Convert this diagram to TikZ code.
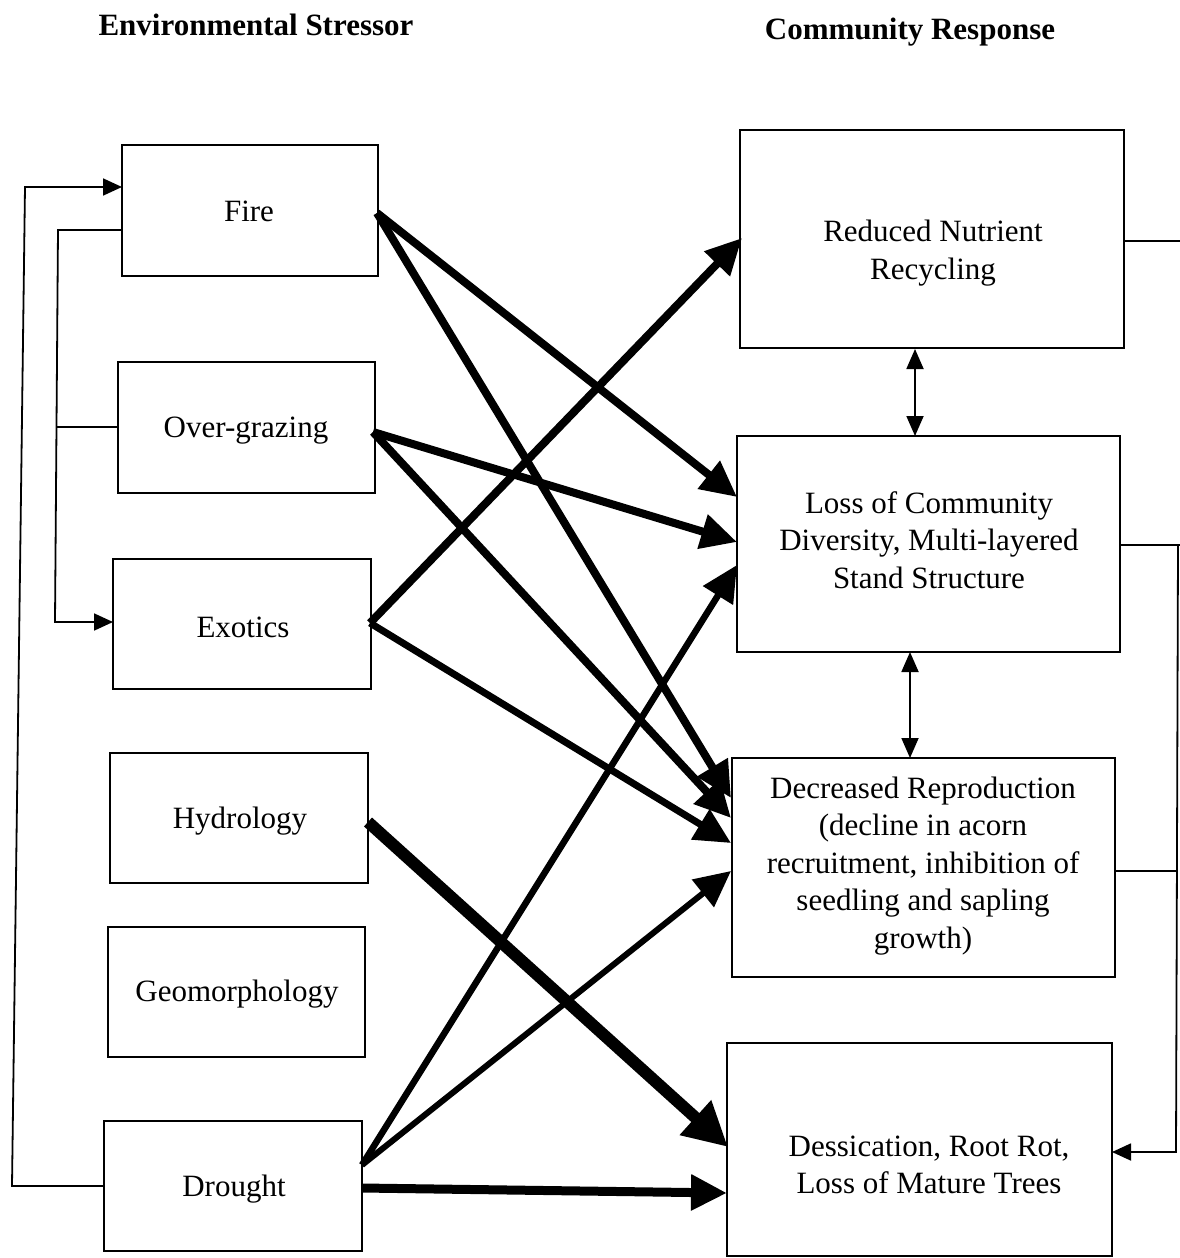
\documentclass[tikz,border=0pt]{standalone}
\usepackage{fontspec}
\setmainfont{Liberation Serif}
\usetikzlibrary{arrows.meta}
\begin{document}
\begin{tikzpicture}[x=1pt,y=-1pt,
  box/.style={draw,line width=1.8pt,inner sep=0pt},
  lbl/.style={align=center,font=\fontsize{31}{37.5}\selectfont,inner sep=0pt},
  head/.style={font=\fontsize{31}{36}\selectfont\bfseries,inner sep=0pt},
  fb/.style={line width=1.8pt,-{Triangle[length=19pt,width=17pt]}},
  fbl/.style={line width=1.8pt},
  dbl/.style={line width=1.8pt,{Triangle[length=20pt,width=17pt]}-{Triangle[length=20pt,width=17pt]}},
  big/.style={line width=#1,-{Triangle[length=36pt,width=34pt]}},
  huge/.style={line width=#1,-{Triangle[length=44pt,width=44pt]}}
]
\useasboundingbox (0,0) rectangle (1180,1258);
% headings
\node[head] (h1) at (256,25) {Environmental Stressor};
\node[head] (h2) at (910,32) {Community Response};
% left boxes
\node[box,minimum width=256pt,minimum height=131pt] (fire) at (250,210.5) {};
\node[box,minimum width=257pt,minimum height=131pt] (og) at (246.5,427.5) {};
\node[box,minimum width=258pt,minimum height=130pt] (ex) at (242,624) {};
\node[box,minimum width=258pt,minimum height=130pt] (hy) at (239,818) {};
\node[box,minimum width=257pt,minimum height=130pt] (ge) at (236.5,992) {};
\node[box,minimum width=258pt,minimum height=130pt] (dr) at (233,1186) {};
\node[lbl] (fireT) at (249,211) {Fire};
\node[lbl] (ogT) at (246,431) {Over-grazing};
\node[lbl] (exT) at (243,627) {Exotics};
\node[lbl] (hyT) at (240,821) {Hydrology};
\node[lbl] (geT) at (237,994) {Geomorphology};
\node[lbl] (drT) at (234,1189) {Drought};
% right boxes
\node[box,minimum width=384pt,minimum height=218pt] (rnr) at (932,239) {};
\node[box,minimum width=383pt,minimum height=216pt] (lcd) at (928.5,544) {};
\node[box,minimum width=383pt,minimum height=219pt] (dred) at (923.5,867.5) {};
\node[box,minimum width=385pt,minimum height=213pt] (des) at (919.5,1149.5) {};
\node[lbl] (rnrT) at (933,253) {Reduced Nutrient\\Recycling};
\node[lbl] (lcdT) at (929,540) {Loss of Community\\Diversity, Multi-layered\\Stand Structure};
\node[lbl] (dredT) at (923,866) {Decreased Reproduction\\(decline in acorn\\recruitment, inhibition of\\seedling and sapling\\growth)};
\node[lbl] (desT) at (929,1165) {Dessication, Root Rot,\\Loss of Mature Trees};
% attachment coordinates
\coordinate (fireS) at (377,213);
\coordinate (ogS) at (373,432);
\coordinate (exS) at (370,623);
\coordinate (hyS) at (368,822);
\coordinate (drS) at (362,1165);
\coordinate (drS2) at (362,1188);
\coordinate (rnrA) at (742,238);
\coordinate (lcdA1) at (737,497);
\coordinate (lcdA2) at (737,542);
\coordinate (lcdA3) at (737,565);
\coordinate (dredA1) at (731,798);
\coordinate (dredA2) at (731,818);
\coordinate (dredA3) at (731,843);
\coordinate (dredA4) at (731,871);
\coordinate (desA1) at (728,1147);
\coordinate (desA2) at (727,1193);
% thick arrows
\draw[big=8pt] (fireS) -- (lcdA1);
\draw[big=8pt] (fireS) -- (dredA1);
\draw[big=8pt] (ogS) -- (lcdA2);
\draw[big=8pt] (ogS) -- (dredA2);
\draw[big=8pt] (exS) -- (rnrA);
\draw[big=7pt] (exS) -- (dredA3);
\draw[huge=12pt] (hyS) -- (desA1);
\draw[big=6.5pt] (drS) -- (lcdA3);
\draw[big=6pt] (drS) -- (dredA4);
\draw[big=9pt] (drS2) -- (desA2);
% double arrows
\coordinate (d1a) at (915,349);
\coordinate (d1b) at (915,436);
\coordinate (d2a) at (910,652);
\coordinate (d2b) at (910,758);
\draw[dbl] (d1a) -- (d1b);
\draw[dbl] (d2a) -- (d2b);
% left feedback
\coordinate (drW) at (104,1186);
\coordinate (fireW1) at (122,187);
\coordinate (fireW2) at (122,230);
\coordinate (ogW) at (118,427);
\coordinate (exW) at (113,622);
\draw[fb] (drW) -- (12,1186) -- (25,187) -- (fireW1);
\draw[fb] (fireW2) -- (58,230) -- (55,622) -- (exW);
\draw[fbl] (ogW) -- (57,427);
% right feedback
\coordinate (rnrE) at (1124,241);
\coordinate (lcdE) at (1120,545);
\coordinate (dredE) at (1115,871);
\coordinate (desE) at (1112,1152);
\draw[fbl] (rnrE) -- (1180,241);
\draw[fbl] (lcdE) -- (1180,545);
\draw[fbl] (dredE) -- (1177,871);
\draw[fb] (1178,545) -- (1176,1152) -- (desE);
\end{tikzpicture}
\end{document}
